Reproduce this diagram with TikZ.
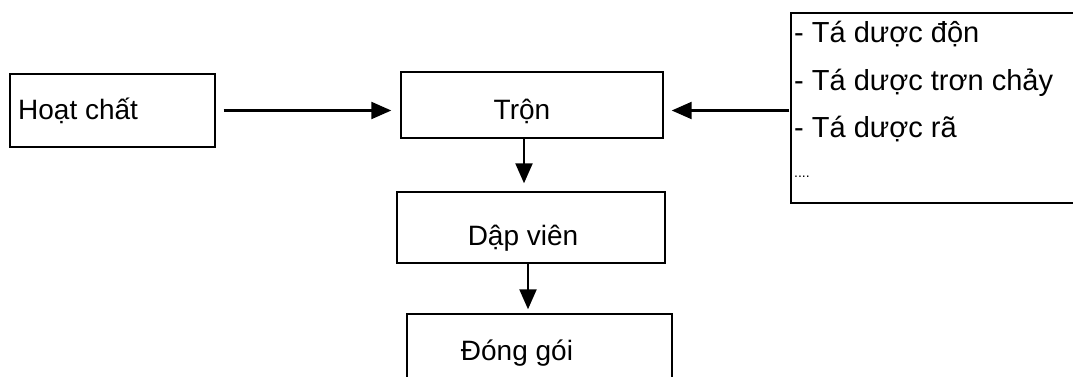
\documentclass[tikz,border=0pt]{standalone}
\usepackage{fontspec}
\setmainfont{Liberation Sans}
\usetikzlibrary{arrows.meta,calc}
\begin{document}
\begin{tikzpicture}[x=1pt,y=1pt,
  box/.style={draw=black,line width=1.4pt,inner sep=0pt},
  lbl/.style={font=\fontsize{28}{30}\selectfont,inner sep=0pt,anchor=base},
  arr/.style={line width=2.2pt,-{Triangle[length=20pt,width=17pt]}}]
\useasboundingbox (0,0) rectangle (1073,-377);
\fill[white] (0,0) rectangle (1073,-377);
\begin{scope}
\clip (0,0) rectangle (1073,-377);
% boxes
\node[box,minimum width=205,minimum height=73] (hoat) at (112.5,-110.5) {};
\node[box,minimum width=262,minimum height=66] (tron) at (532,-105) {};
\node[box,minimum width=268,minimum height=71] (dap) at (531,-227.5) {};
\node[box,minimum width=265,minimum height=90] (dong) at (539.5,-359) {};
\node[box,minimum width=300,minimum height=190] (rb) at (941,-108) {};
% labels
\node[lbl,anchor=base west] (thoat) at (18,-120) {Hoạt chất};
\node[lbl] (ttron) at (522,-120) {Trộn};
\node[lbl] (tdap) at (523,-245) {Dập viên};
\node[lbl] (tdong) at (517,-360) {Đóng gói};
\node[anchor=base west,inner sep=0pt,align=left,font=\fontsize{29}{47.5}\selectfont] (trb) at (794,-138)
  {- Tá dược độn\\- Tá dược trơn chảy\\- Tá dược rã};
\node[anchor=base west,inner sep=0pt,font=\fontsize{14}{16}\selectfont] (tdots) at (794,-177) {....};
% connectors
\draw[arr,shorten <=8pt,shorten >=9pt] (hoat.east) -- (tron.west |- hoat.east);
\draw[arr,shorten <=1pt,shorten >=8pt] (rb.west |- hoat.east) -- (tron.east |- hoat.east);
\coordinate (c1) at (524,0);
\coordinate (c2) at (528,0);
\draw[arr,shorten >=8pt] (tron.south -| c1) -- (dap.north -| c1);
\draw[arr,shorten >=4pt] (dap.south -| c2) -- (dong.north -| c2);
\end{scope}
\end{tikzpicture}
\end{document}
